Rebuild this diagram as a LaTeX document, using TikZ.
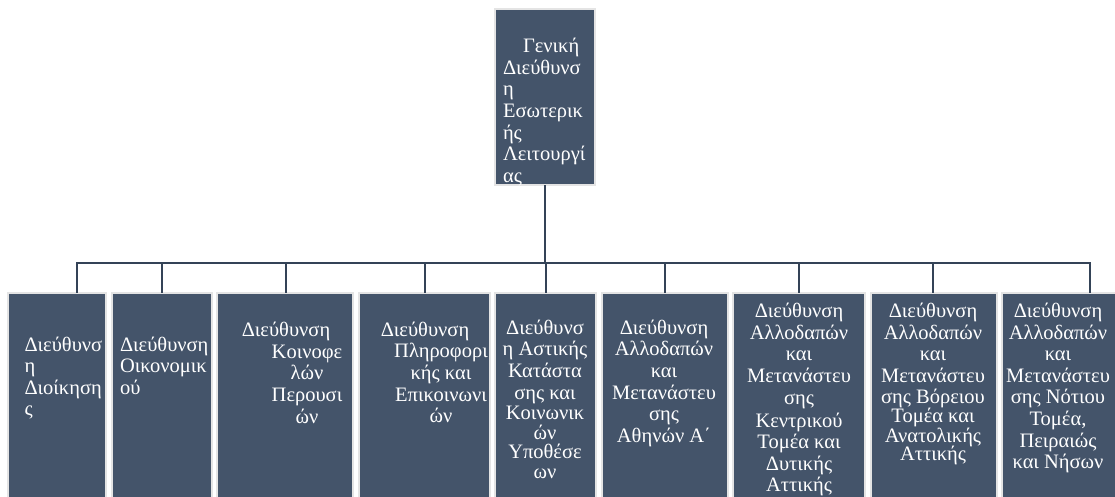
\documentclass[tikz,border=0pt]{standalone}
\usepackage{fontspec}
\setmainfont{Liberation Serif}
\usetikzlibrary{positioning}
\definecolor{slate}{HTML}{44546A}
\definecolor{rim}{HTML}{E4E4E4}
\definecolor{wirecol}{HTML}{344357}
\tikzset{
  unit/.style={rectangle, fill=slate, draw=rim, line width=2pt, inner sep=0pt, outer sep=0pt, minimum height=217pt},
  txt/.style={text=white, inner sep=0pt, outer sep=0pt, font=\fontsize{20.5}{21.6}\selectfont, execute at begin node=\strut},
  wire/.style={draw=wirecol, line width=2pt}
}
\begin{document}
\begin{tikzpicture}[x=1pt, y=-1pt]
	\useasboundingbox (0,0) rectangle (1115,497);
	\clip (0,0) rectangle (1115,497);

	\node[unit, minimum width=100pt, minimum height=176pt] (gen) at (545,97) {};
	\node[unit, minimum width=98pt] (b1) at (57,401.5) {};
	\node[unit, minimum width=100pt, right=5.5pt of b1] (b2) {};
	\node[unit, minimum width=136pt, right=5.5pt of b2] (b3) {};
	\node[unit, minimum width=131pt, right=5.5pt of b3] (b4) {};
	\node[unit, minimum width=101pt, right=5.5pt of b4] (b5) {};
	\node[unit, minimum width=126pt, right=5.5pt of b5] (b6) {};
	\node[unit, minimum width=132pt, right=5.5pt of b6] (b7) {};
	\node[unit, minimum width=126pt, right=5.5pt of b7] (b8) {};
	\node[unit, minimum width=120pt, right=5.5pt of b8] (b9) {};

	\coordinate (bus) at (545,263);
	\draw[wire] (gen) -- (bus);
	\foreach \b/\dx in {b1/20, b2/0, b3/1, b4/1, b5/0, b6/0, b7/0, b8/-1, b9/28}
		\draw[wire] (bus) -| ([xshift=\dx pt]\b.north);

	\node[txt, anchor=north west, align=left] at (503,38.2) {\hspace*{20pt}Γενική\\Διεύθυνσ\\η\\Εσωτερικ\\ής\\Λειτουργί\\ας};
	\node[txt, anchor=north west, align=left] at (24.5,336.6) {Διεύθυνσ\\η\\Διοίκηση\\ς};
	\node[txt, anchor=north west, align=left] at (120,336.6) {Διεύθυνση\\Οικονομικ\\ού};
	\node[txt, anchor=north, align=center] at (307,322.2) {\hspace*{-42pt}Διεύθυνση\\Κοινοφε\\λών\\Περουσι\\ών};
	\node[txt, anchor=north, align=center] at (441,321.9) {\hspace*{-32pt}Διεύθυνση\\Πληροφορι\\κής και\\Επικοινωνι\\ών};
	\node[txt, anchor=north, align=center] at (545,319.9) {Διεύθυνσ\\η Αστικής\\Κατάστα\\σης και\\[-1pt]Κοινωνικ\\[-2pt]ών\\[-2pt]Υποθέσε\\[-2pt]ων};
	\node[txt, anchor=north, align=center] at (664,319.9) {Διεύθυνση\\Αλλοδαπών\\και\\Μετανάστευ\\σης\\Αθηνών Α΄};
	\node[txt, anchor=north, align=center] at (799,303.2) {Διεύθυνση\\Αλλοδαπών\\και\\Μετανάστευ\\σης\\[1.5pt]Κεντρικού\\Τομέα και\\Δυτικής\\Αττικής};
	\node[txt, anchor=north, align=center] at (933,303) {Διεύθυνση\\Αλλοδαπών\\και\\Μετανάστευ\\σης Βόρειου\\[-3pt]Τομέα και\\[-2pt]Ανατολικής\\[-3pt]Αττικής};
	\node[txt, anchor=north, align=center] at (1058,303) {Διεύθυνση\\Αλλοδαπών\\και\\Μετανάστευ\\σης Νότιου\\Τομέα,\\Πειραιώς\\και Νήσων};

\end{tikzpicture}
\end{document}
